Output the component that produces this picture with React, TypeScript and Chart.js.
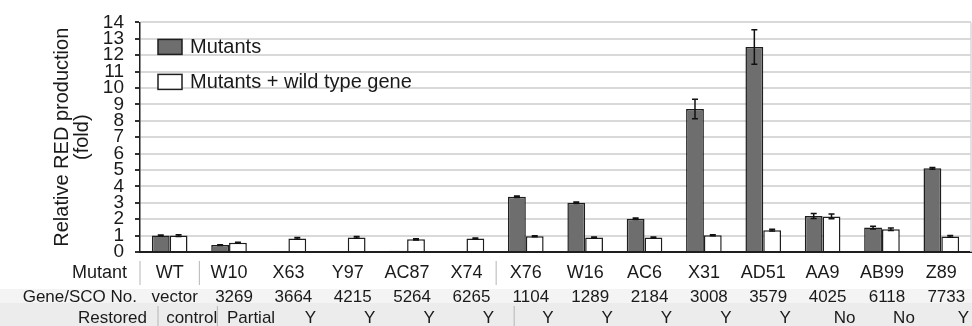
import React, { useEffect, useRef } from "react";
import { Chart, registerables } from "chart.js";

Chart.register(...registerables);

const categories = ["WT", "W10", "X63", "Y97", "AC87", "X74", "X76", "W16", "AC6", "X31", "AD51", "AA9", "AB99", "Z89"];
const mutants = [1.0, 0.42, 0.05, 0.05, 0.08, 0.05, 3.37, 3.0, 2.03, 8.72, 12.5, 2.19, 1.49, 5.1];
const mutantsErr = [0.03, 0.02, 0, 0, 0, 0, 0.05, 0.05, 0.05, 0.6, 1.05, 0.15, 0.08, 0.05];
const restoredVals = [1.0, 0.56, 0.83, 0.89, 0.77, 0.83, 0.96, 0.89, 0.89, 1.02, 1.33, 2.17, 1.39, 0.95];
const restoredErr = [0.05, 0.03, 0.05, 0.05, 0.04, 0.03, 0.03, 0.03, 0.03, 0.03, 0.05, 0.15, 0.08, 0.05];
const geneNo = ["vector", "3269", "3664", "4215", "5264", "6265", "1104", "1289", "2184", "3008", "3579", "4025", "6118", "7733"];
const restoredRow = ["control", "Partial", "Y", "Y", "Y", "Y", "Y", "Y", "Y", "Y", "Y", "No", "No", "Y"];
const seriesNames = ["Mutants", "Mutants + wild type gene"];
const rowHeaders = ["Mutant", "Gene/SCO No.", "Restored"];
const groupBreaks = [0, 5]; // separator after these indices
const yTitle = ["Relative RED production", "(fold)"];

const FONT = "'Liberation Sans', Arial, sans-serif";
const DARK = "#6e6e6e";
const EDGE = "#1e1e1e";

const errorBars = {
  id: "errorBars",
  afterDatasetsDraw(chart: any) {
    const ctx = chart.ctx;
    const y = chart.scales.y;
    const errs = [mutantsErr, restoredErr];
    ctx.save();
    ctx.strokeStyle = "#111";
    ctx.lineWidth = 1.5;
    chart.data.datasets.forEach((ds: any, di: number) => {
      const meta = chart.getDatasetMeta(di);
      meta.data.forEach((bar: any, i: number) => {
        const e = errs[di][i];
        if (!e) return;
        const v = ds.data[i];
        const yt = y.getPixelForValue(v + e);
        const yb = y.getPixelForValue(Math.max(0, v - e));
        ctx.beginPath();
        ctx.moveTo(bar.x, yt);
        ctx.lineTo(bar.x, yb);
        ctx.moveTo(bar.x - 3, yt);
        ctx.lineTo(bar.x + 3, yt);
        ctx.moveTo(bar.x - 3, yb);
        ctx.lineTo(bar.x + 3, yb);
        ctx.stroke();
      });
    });
    ctx.restore();
  },
};

const decorations = {
  id: "decorations",
  beforeDraw(chart: any) {
    const ctx = chart.ctx;
    const area = chart.chartArea;
    ctx.save();
    ctx.fillStyle = "#ffffff";
    ctx.fillRect(0, 0, chart.width, chart.height);
    ctx.fillStyle = "#f4f4f4";
    ctx.fillRect(0, area.bottom + 37, chart.width, 14);
    ctx.fillStyle = "#ececec";
    ctx.fillRect(0, area.bottom + 51, chart.width, chart.height - area.bottom - 51);
    ctx.restore();
  },
  afterDraw(chart: any) {
    const ctx = chart.ctx;
    const area = chart.chartArea;
    const x = chart.scales.x;
    ctx.save();
    // right border
    ctx.strokeStyle = "#d9d9d9";
    ctx.lineWidth = 1.5;
    ctx.beginPath();
    ctx.moveTo(area.right, area.top);
    ctx.lineTo(area.right, area.bottom);
    ctx.stroke();

    // legend
    const lx = area.left + 18;
    const items = [DARK, "#ffffff"];
    ctx.font = `20px ${FONT}`;
    ctx.textBaseline = "middle";
    ctx.textAlign = "left";
    items.forEach((c, i) => {
      const ly = area.top + 17 + i * 35;
      ctx.fillStyle = c;
      ctx.fillRect(lx, ly, 24, 15);
      ctx.strokeStyle = EDGE;
      ctx.lineWidth = 1.5;
      ctx.strokeRect(lx, ly, 24, 15);
      ctx.fillStyle = "#1a1a1a";
      ctx.fillText(seriesNames[i], lx + 32, ly + 8);
    });

    // label rows
    const r1 = area.bottom + 21;
    const r2 = area.bottom + 45;
    const r3 = area.bottom + 66;
    ctx.fillStyle = "#1a1a1a";
    ctx.textAlign = "right";
    ctx.font = `18px ${FONT}`;
    ctx.fillText(rowHeaders[0], area.left - 13, r1);
    ctx.font = `17px ${FONT}`;
    ctx.fillText(rowHeaders[1], area.left - 3, r2);
    ctx.fillText(rowHeaders[2], area.left + 7, r3);
    ctx.textAlign = "center";
    categories.forEach((c, i) => {
      const cx = x.getPixelForValue(i);
      ctx.font = `18px ${FONT}`;
      ctx.fillText(c, cx, r1);
      ctx.font = `17px ${FONT}`;
      ctx.fillText(geneNo[i], cx + 5, r2);
      ctx.fillText(restoredRow[i], cx + 22, r3);
    });

    // separators
    const seps = [area.left];
    groupBreaks.forEach((b) => seps.push((x.getPixelForValue(b) + x.getPixelForValue(b + 1)) / 2));
    ctx.strokeStyle = "#b5b5b5";
    ctx.lineWidth = 1;
    seps.forEach((sx) => {
      ctx.beginPath();
      ctx.moveTo(sx, area.bottom + 9);
      ctx.lineTo(sx, area.bottom + 33);
      ctx.moveTo(sx + 18, area.bottom + 54);
      ctx.lineTo(sx + 18, area.bottom + 74);
      ctx.stroke();
    });
    ctx.restore();
  },
};

export default function App() {
  const ref = useRef<HTMLCanvasElement | null>(null);
  useEffect(() => {
    document.body.style.margin = "0";
    const chart = new Chart(ref.current as HTMLCanvasElement, {
      type: "bar",
      data: {
        labels: categories,
        datasets: [
          {
            label: seriesNames[0],
            data: mutants,
            backgroundColor: DARK,
            borderColor: EDGE,
            borderWidth: 1.5,
            categoryPercentage: 0.6,
            barPercentage: 1.0,
          },
          {
            label: seriesNames[1],
            data: restoredVals,
            backgroundColor: "#ffffff",
            borderColor: EDGE,
            borderWidth: 1.5,
            categoryPercentage: 0.6,
            barPercentage: 1.0,
          },
        ],
      },
      options: {
        animation: false,
        responsive: false,
        maintainAspectRatio: false,
        layout: { padding: { top: 20, right: 1, bottom: 0, left: 0 } },
        plugins: { legend: { display: false }, tooltip: { enabled: false } },
        scales: {
          x: {
            grid: { display: false },
            ticks: { display: false },
            border: { display: true, color: "#1e1e1e", width: 2 },
            afterFit: (s: any) => {
              s.height = 74;
            },
          },
          y: {
            min: 0,
            max: 14,
            ticks: {
              stepSize: 1,
              autoSkip: false,
              padding: 11,
              color: "#1a1a1a",
              font: { family: FONT, size: 19 },
            },
            grid: {
              color: (c: any) => (c.tick && c.tick.value === 0 ? "rgba(0,0,0,0)" : "#d9d9d9"),
              lineWidth: 2,
              tickColor: "#333",
              tickLength: 5,
            },
            border: { display: true, color: "#1e1e1e", width: 1.5 },
            title: {
              display: true,
              text: yTitle,
              color: "#1a1a1a",
              font: { family: FONT, size: 20, lineHeight: 1.0 },
              padding: { top: 52, bottom: 0 },
            },
            afterFit: (s: any) => {
              s.width = 140;
            },
          },
        },
      },
      plugins: [decorations, errorBars],
    });
    return () => chart.destroy();
  }, []);
  return (
    <div style={{ position: "absolute", left: 0, top: 0, width: 972, height: 326 }}>
      <canvas ref={ref} width={972} height={326} />
    </div>
  );
}
